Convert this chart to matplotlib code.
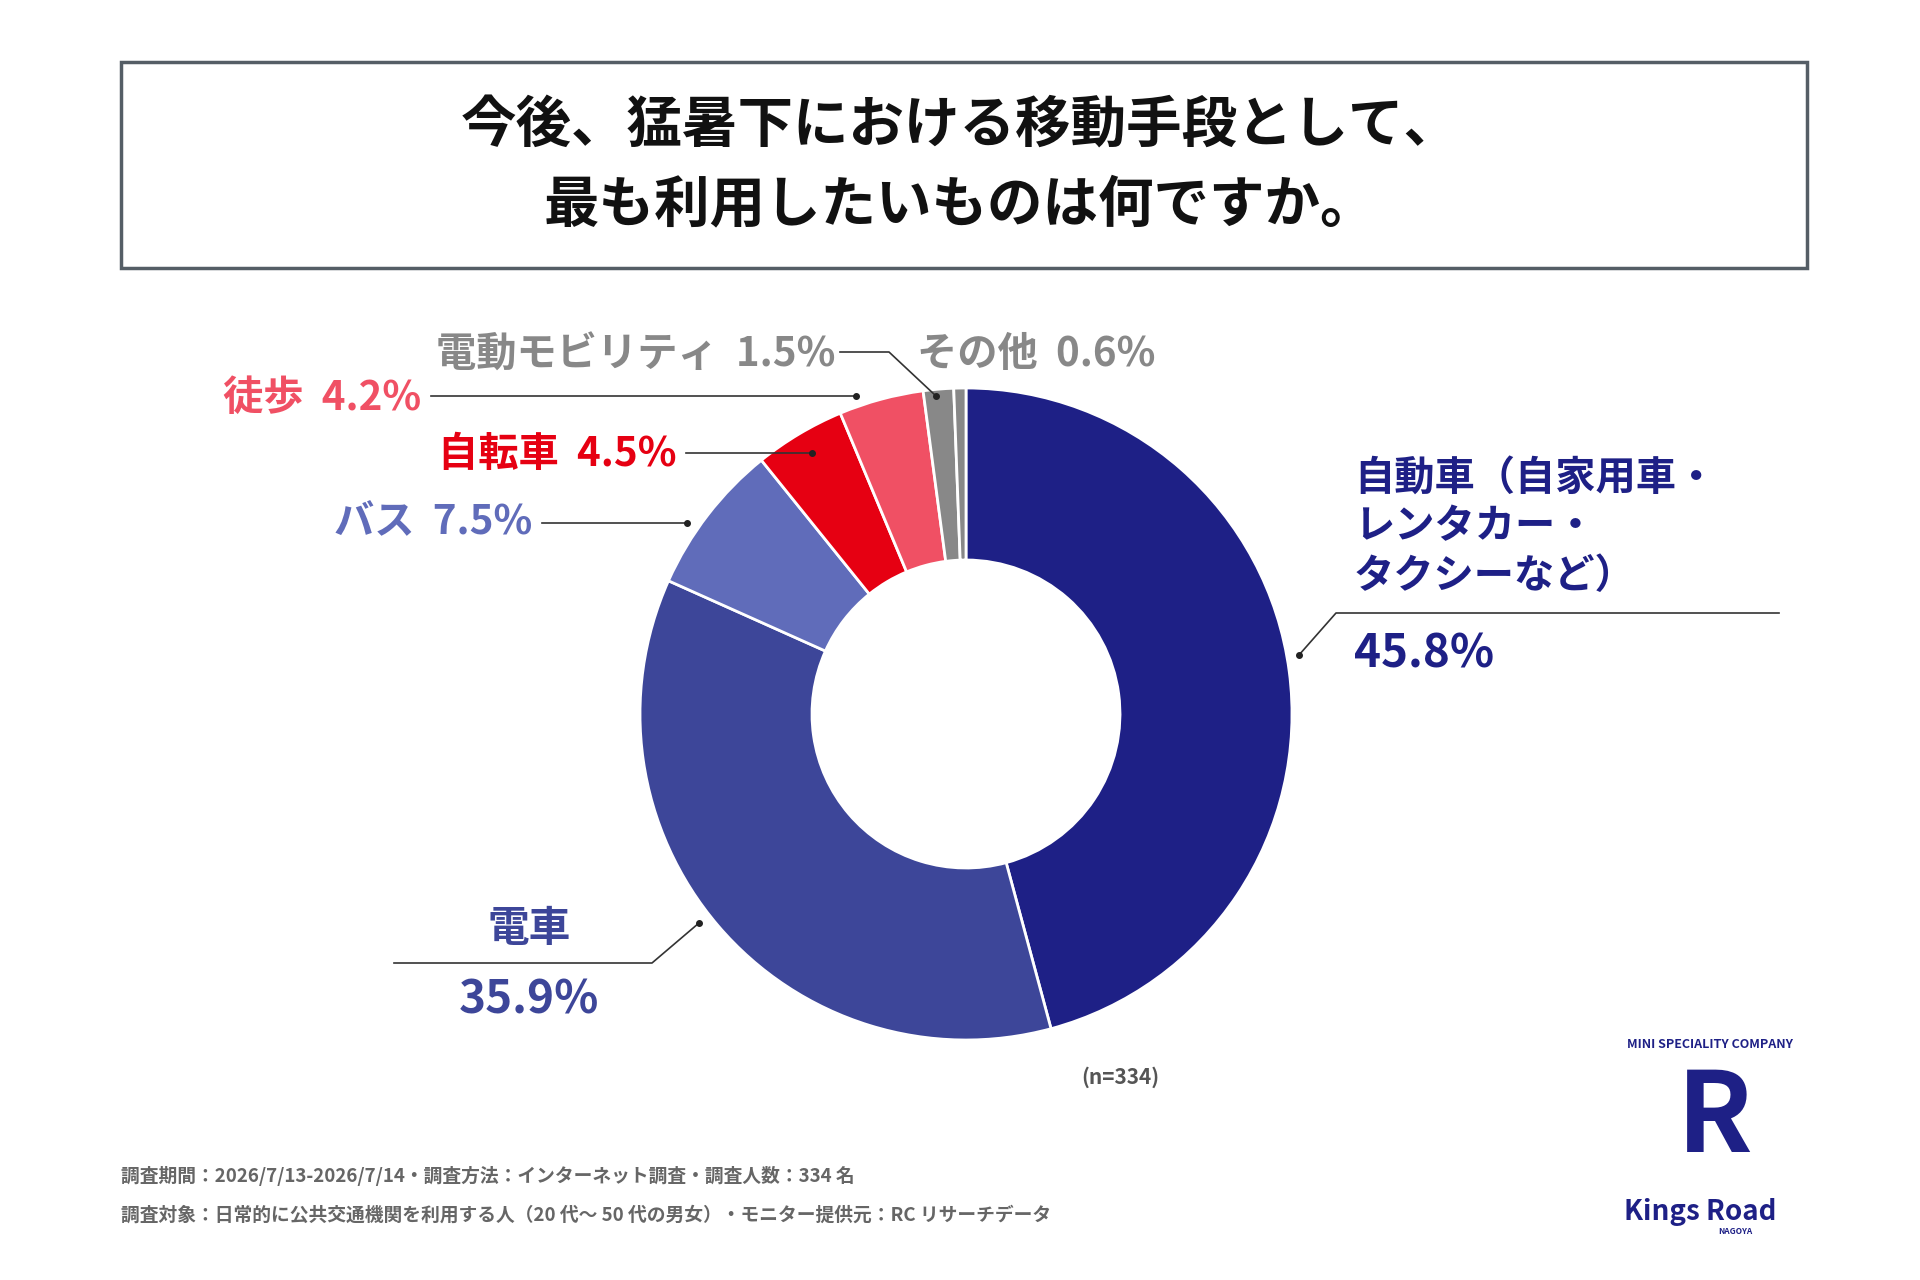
import matplotlib
matplotlib.use('Agg')
import matplotlib.pyplot as plt
from matplotlib.patches import Rectangle

plt.rcParams['font.family'] = ['Noto Sans CJK JP', 'DejaVu Sans']

labels = ['自動車', '電車', 'バス', '自転車', '徒歩', '電動モビリティ', 'その他']
values = [45.8, 35.9, 7.5, 4.5, 4.2, 1.5, 0.6]
colors = ['#1e2086', '#3d4699', '#606cba', '#e60012', '#f05064', '#888888', '#888888']

fig = plt.figure(figsize=(19.2, 12.8), dpi=100)
ax = fig.add_axes([0, 0, 1, 1])
ax.set_aspect('equal')
ax.axis('off')

ax.add_patch(Rectangle((121, 1012), 1686, 206, fill=False, ec='#555e66', lw=2.5))
ax.text(960, 1153, '今後、猛暑下における移動手段として、', ha='center', va='center',
        fontsize=40, fontweight='bold', color='#111111')
ax.text(960, 1075, '最も利用したいものは何ですか。', ha='center', va='center',
        fontsize=40, fontweight='bold', color='#111111')

ax.pie(values, colors=colors, startangle=90, counterclock=False,
       center=(966, 566), radius=326,
       wedgeprops=dict(width=172, edgecolor='white', linewidth=2))
ax.set_xlim(0, 1920)
ax.set_ylim(0, 1280)


def leader(xs, ys):
    ax.plot(xs, ys, color='#333333', lw=1.2)
    ax.plot(xs[0], ys[0], 'o', color='#222222', ms=4)


LS = 29

# 自動車
leader([1299, 1336, 1779], [625, 667, 667])
for i, t in enumerate(['自動車（自家用車・', 'レンタカー・', 'タクシーなど）']):
    ax.text(1354, 802 - 49 * i, t, fontsize=LS, fontweight='bold', color=colors[0], va='center')
ax.text(1354, 625, f'{values[0]}%', fontsize=33, fontweight='bold', color=colors[0], va='center')

# 電車
leader([699, 652, 394], [357, 317, 317])
ax.text(529, 351, labels[1], fontsize=30, fontweight='bold', color=colors[1], ha='center', va='center')
ax.text(529, 280, f'{values[1]}%', fontsize=33, fontweight='bold', color=colors[1], ha='center', va='center')

# バス
leader([687, 542], [757, 757])
ax.text(532, 757, f'{labels[2]}  {values[2]}%', fontsize=LS, fontweight='bold', color=colors[2], ha='right', va='center')

# 自転車
leader([812, 686], [827, 827])
ax.text(677, 825, f'{labels[3]}  {values[3]}%', fontsize=LS, fontweight='bold', color=colors[3], ha='right', va='center')

# 徒歩
leader([856, 431], [884, 884])
ax.text(421, 882, f'{labels[4]}  {values[4]}%', fontsize=LS, fontweight='bold', color=colors[4], ha='right', va='center')

# 電動モビリティ
leader([936, 889, 840], [884, 928, 928])
ax.text(835, 925, f'{labels[5]}  {values[5]}%', fontsize=LS, fontweight='bold', color='#888888', ha='right', va='center')

# その他
ax.text(917, 925, f'{labels[6]}  {values[6]}%', fontsize=LS, fontweight='bold', color='#888888', ha='left', va='center')

ax.text(1120, 203, '(n=334)', fontsize=15, fontweight='bold', color='#555555', ha='center', va='center')

ax.text(121, 104, '調査期間：2026/7/13-2026/7/14・調査方法：インターネット調査・調査人数：334 名',
        fontsize=13.5, fontweight='bold', color='#666666', va='center')
ax.text(121, 65, '調査対象：日常的に公共交通機関を利用する人（20 代〜 50 代の男女）・モニター提供元：RC リサーチデータ',
        fontsize=13.5, fontweight='bold', color='#666666', va='center')

# logo (approximation)
ax.text(1715, 160, 'R', fontsize=80, fontweight='bold', color='#1e2086', ha='center', va='center')
ax.text(1700, 68, 'Kings Road', fontsize=20, fontweight='bold', style='italic', color='#1e2086', ha='center', va='center')
ax.text(1735, 49, 'NAGOYA', fontsize=6, fontweight='bold', color='#1e2086', ha='center', va='center')
ax.text(1710, 235, 'MINI SPECIALITY COMPANY', fontsize=9, fontweight='bold', color='#1e2086', ha='center', va='center')

fig.savefig('out.png', dpi=100, facecolor='white')
